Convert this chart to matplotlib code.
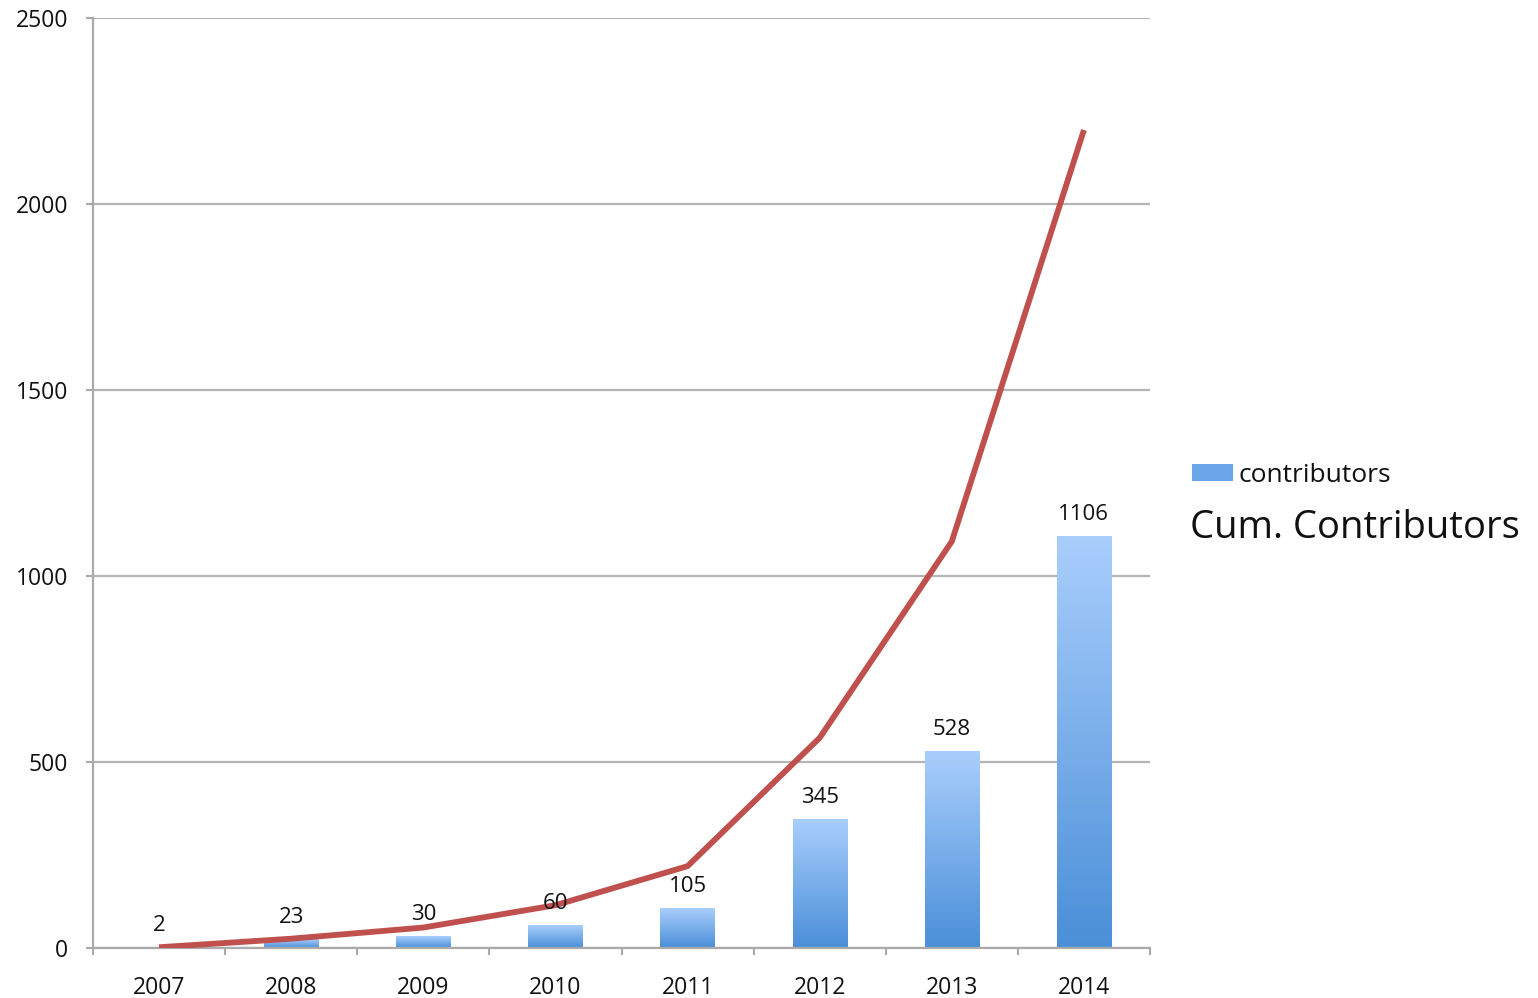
import matplotlib
matplotlib.use("Agg")
import matplotlib.pyplot as plt
import numpy as np
from matplotlib.colors import LinearSegmentedColormap
from matplotlib.patches import Patch

years = ["2007", "2008", "2009", "2010", "2011", "2012", "2013", "2014"]
contributors = [2, 23, 30, 60, 105, 345, 528, 1106]
cumulative = [2, 25, 55, 115, 220, 565, 1093, 2199]
y_ticks = [0, 500, 1000, 1500, 2000, 2500]

plt.rcParams['font.family'] = ['Open Sans', 'DejaVu Sans']
plt.rcParams['text.color'] = '#111111'

fig = plt.figure(figsize=(15.38, 9.98), dpi=100)
ax = fig.add_axes([93/1538, 50/998, (1150-93)/1538, (948-18)/998])

x = np.arange(len(years))
bars = ax.bar(x, contributors, width=0.41, color='none', edgecolor='none', zorder=2)

cmap = LinearSegmentedColormap.from_list("g", ["#4a8fd8", "#a9cefc"])
grad = np.linspace(0, 1, 256).reshape(-1, 1)
for b in bars:
    x0, y0 = b.get_x(), b.get_y()
    w, h = b.get_width(), b.get_height()
    ax.imshow(grad, cmap=cmap, origin='lower', aspect='auto',
              extent=(x0, x0 + w, y0, y0 + h), zorder=2, interpolation='bilinear')

for xi, v in zip(x, contributors):
    ax.annotate(str(v), (xi, v), xytext=(0, 12), textcoords='offset points',
                ha='center', va='baseline', fontsize=16, color='#111111', zorder=4)

ax.plot(x, cumulative, color='#c0504d', lw=4.2, zorder=3, solid_capstyle='butt')

ax.set_xlim(-0.5, len(years) - 0.5)
ax.set_ylim(0, 2500)
ax.set_yticks(y_ticks)
ax.set_yticklabels([str(t) for t in y_ticks])
ax.set_xticks(x)
ax.set_xticklabels(years)
ax.set_xticks(np.arange(-0.5, len(years)), minor=True)
ax.tick_params(axis='x', which='major', length=0, pad=20, labelsize=16.5, labelcolor='#111111')
ax.tick_params(axis='x', which='minor', length=5, width=1.5, color='#aaaaaa', direction='out')
ax.tick_params(axis='y', length=5, width=1.5, color='#aaaaaa', pad=13, labelsize=16.5, labelcolor='#111111')

ax.grid(axis='y', color='#b5b5b5', lw=1.6, zorder=0)
ax.set_axisbelow(True)
for s in ['top', 'right']:
    ax.spines[s].set_visible(False)
for s in ['left', 'bottom']:
    ax.spines[s].set_color('#aaaaaa')
    ax.spines[s].set_linewidth(1.6)

fig.legend(handles=[Patch(facecolor='#6aa6e8', edgecolor='none')], labels=['contributors'],
           loc='center left', bbox_to_anchor=(1192/1538, 1 - 475/998), frameon=False,
           fontsize=19, handlelength=1.55, handleheight=0.6, handletextpad=0.2,
           borderpad=0, borderaxespad=0)
fig.text(1190/1538, 1 - 528/998, "Cum. Contributors", fontsize=27.5, va='center', ha='left',
         color='#111111')

fig.savefig("out.png", dpi=100)
